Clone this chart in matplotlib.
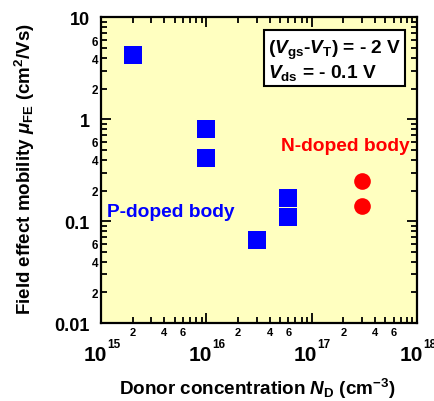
import numpy as np
import matplotlib
matplotlib.use('Agg')
import matplotlib.pyplot as plt
from matplotlib.ticker import LogLocator, FuncFormatter, NullFormatter

plt.rcParams['font.family'] = 'Liberation Sans'
plt.rcParams['font.weight'] = 'bold'
plt.rcParams['axes.labelweight'] = 'bold'
plt.rcParams['mathtext.fontset'] = 'custom'
plt.rcParams['mathtext.rm'] = 'Liberation Sans:bold'
plt.rcParams['mathtext.bf'] = 'Liberation Sans:bold'
plt.rcParams['mathtext.it'] = 'Liberation Sans:bold:italic'

# p-doped body (squares)
p_conc = [2e15, 1e16, 1e16, 3e16, 6e16, 6e16]
p_mob = [4.3, 0.80, 0.42, 0.065, 0.168, 0.11]
# n-doped body (circles)
n_conc = [3e17, 3e17]
n_mob = [0.25, 0.14]

x_decades = [15, 16, 17, 18]

fig = plt.figure(figsize=(4.35, 4.02), dpi=100)
ax = fig.add_axes([0.232, 0.194, 0.727, 0.760])
ax.set_facecolor('#FFFFC0')

ax.plot(p_conc, p_mob, 's', color='#0000FF', markersize=12.5, markeredgewidth=0)
ax.plot(n_conc, n_mob, 'o', color='#FF0000', markersize=12, markeredgewidth=0)

ax.set_xscale('log')
ax.set_yscale('log')
ax.set_xlim(1e15, 1e18)
ax.set_ylim(0.01, 10)

ax.xaxis.set_major_locator(LogLocator(base=10, numticks=10))
ax.xaxis.set_minor_locator(LogLocator(base=10, subs=range(2, 10), numticks=20))
ax.yaxis.set_major_locator(LogLocator(base=10, numticks=10))
ax.yaxis.set_minor_locator(LogLocator(base=10, subs=range(2, 10), numticks=20))

def minor_fmt(v, pos):
    d = int(round(v / 10 ** np.floor(np.log10(v) + 1e-9)))
    return str(d) if d in (2, 4, 6) else ''

def y_major(v, pos):
    return {10: '10', 1: '1', 0.1: '0.1', 0.01: '0.01'}.get(round(v, 3), '')

ax.xaxis.set_major_formatter(NullFormatter())
ax.xaxis.set_minor_formatter(FuncFormatter(minor_fmt))
ax.yaxis.set_major_formatter(FuncFormatter(y_major))
ax.yaxis.set_minor_formatter(FuncFormatter(minor_fmt))

# decade labels on x: "10" with a small exponent, below the minor labels
for e in x_decades:
    ax.annotate('10', xy=(10.0 ** e, 0), xycoords=('data', 'axes fraction'),
                xytext=(-6, -31), textcoords='offset pixels',
                ha='center', va='center', fontsize=15, annotation_clip=False)
    ax.annotate(str(e), xy=(10.0 ** e, 0), xycoords=('data', 'axes fraction'),
                xytext=(6, -21), textcoords='offset pixels',
                ha='left', va='center', fontsize=8.5, annotation_clip=False)

ax.tick_params(which='both', direction='in', top=True, right=True, width=1.3)
ax.tick_params(which='major', length=7.5)
ax.tick_params(which='minor', length=4.5)
ax.tick_params(axis='x', which='minor', labelsize=8, pad=3)
ax.tick_params(axis='y', which='major', labelsize=13, pad=8)
ax.tick_params(axis='y', which='minor', labelsize=8.5, pad=2)
for s in ax.spines.values():
    s.set_linewidth(1.6)

ax.set_xlabel(r'Donor concentration $N_{\mathrm{D}}$ (cm$^{-3}$)', fontsize=13.6)
ax.set_ylabel(r'Field effect mobility $\mu_{\mathrm{FE}}$ (cm$^{2}$/Vs)', fontsize=13.5)
ax.xaxis.label.set_va('center')
ax.yaxis.label.set_va('center')
ax.xaxis.set_label_coords(0.494, -0.212)
ax.yaxis.set_label_coords(-0.24, 0.506)

ax.text(0.02, 0.365, 'P-doped body', transform=ax.transAxes, color='#0000FF',
        fontsize=13.8, va='center', ha='left')
ax.text(0.975, 0.58, 'N-doped body', transform=ax.transAxes, color='#FF0000',
        fontsize=13.8, va='center', ha='right')
ax.text(0.528, 0.862,
        '($V_{\\mathrm{gs}}$-$V_{\\mathrm{T}}$) = - 2 V\n$V_{\\mathrm{ds}}$ = - 0.1 V',
        transform=ax.transAxes, fontsize=13.8, va='center', ha='left', linespacing=1.1,
        bbox=dict(boxstyle='square,pad=0.2', facecolor='white', edgecolor='black', linewidth=1.5))

fig.savefig('out.png', dpi=100)
